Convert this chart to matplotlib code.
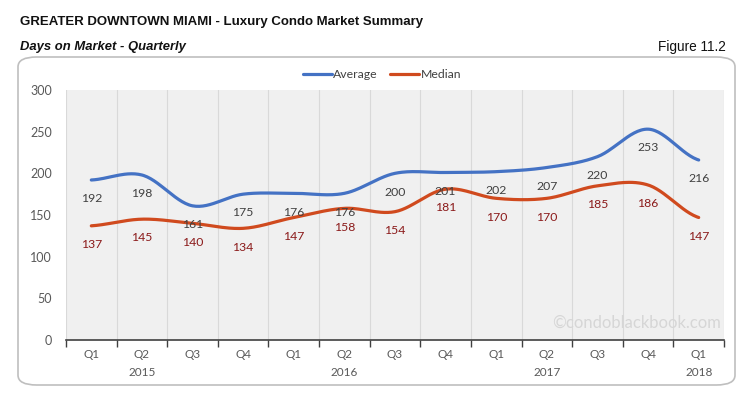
import numpy as np
import matplotlib
matplotlib.use("Agg")
import matplotlib.pyplot as plt
from matplotlib.patches import FancyBboxPatch

quarters = ["Q1", "Q2", "Q3", "Q4", "Q1", "Q2", "Q3", "Q4", "Q1", "Q2", "Q3", "Q4", "Q1"]
years = ["2015", "2016", "2017", "2018"]
year_pos = [1, 5, 9, 12]
average = [192, 198, 161, 175, 176, 176, 200, 201, 202, 207, 220, 253, 216]
median = [137, 145, 140, 134, 147, 158, 154, 181, 170, 170, 185, 186, 147]

BLUE = "#4472C4"
RED = "#D04A1E"
TEXT = "#595959"


def smooth(xs, ys, n=30):
    # catmull-rom spline through the points, like excel's smoothed line
    xs = np.asarray(xs, float)
    ys = np.asarray(ys, float)
    px = np.concatenate([[2 * xs[0] - xs[1]], xs, [2 * xs[-1] - xs[-2]]])
    py = np.concatenate([[ys[0]], ys, [ys[-1]]])
    out_x, out_y = [], []
    t = np.linspace(0, 1, n)
    for i in range(1, len(px) - 2):
        for p, out in ((px, out_x), (py, out_y)):
            p0, p1, p2, p3 = p[i - 1], p[i], p[i + 1], p[i + 2]
            out.extend(0.5 * ((2 * p1) + (-p0 + p2) * t
                              + (2 * p0 - 5 * p1 + 4 * p2 - p3) * t ** 2
                              + (-p0 + 3 * p1 - 3 * p2 + p3) * t ** 3))
    return np.array(out_x), np.array(out_y)


plt.rcParams["font.family"] = ["Lato", "DejaVu Sans"]

fig = plt.figure(figsize=(7.45, 3.93), dpi=100)
W, H = 745, 393
head = ["Liberation Sans Narrow", "Liberation Sans"]

fig.text(20 / W, 1 - 22 / H, "GREATER DOWNTOWN MIAMI - Luxury Condo Market Summary",
         family=head, weight="bold", fontsize=9.5, va="center", ha="left", color="#111111")
fig.text(20 / W, 1 - 47 / H, "Days on Market - Quarterly",
         family=head, weight="bold", style="italic",
         fontsize=9.4, va="center", ha="left", color="#111111")
fig.text(726 / W, 1 - 47 / H, "Figure 11.2",
         family=head, fontsize=9.8, va="center", ha="right", color="#111111")

box = FancyBboxPatch((18 / W, 1 - 385 / H), 717 / W, 328 / H,
                     boxstyle="round,pad=0,rounding_size=0.025",
                     transform=fig.transFigure, facecolor="white",
                     edgecolor="#bfbfbf", linewidth=1.2, zorder=-5)
fig.add_artist(box)

ax = fig.add_axes([66 / W, 1 - 340 / H, 658 / W, 250 / H])
ax.set_zorder(2)
ax.set_facecolor("#f0f0f0")
x = np.arange(len(quarters))

for i in range(len(quarters) + 1):
    ax.axvline(i - 0.5, color="#d9d9d9", linewidth=0.8, zorder=1)

sx, sy = smooth(x, average)
ax.plot(sx, sy, color=BLUE, linewidth=2.3, solid_capstyle="round", zorder=3, label="Average")
sx, sy = smooth(x, median)
ax.plot(sx, sy, color=RED, linewidth=2.3, solid_capstyle="round", zorder=3, label="Median")

for xi, v in zip(x, average):
    ax.annotate(str(v), (xi, v), xytext=(0, -13.5), textcoords="offset points",
                ha="center", va="center", fontsize=8.8, color="#404040", zorder=4)
for xi, v in zip(x, median):
    ax.annotate(str(v), (xi, v), xytext=(0, -13.5), textcoords="offset points",
                ha="center", va="center", fontsize=8.8, color="#8B1A1A", zorder=4)

ax.set_xlim(-0.5, len(quarters) - 0.5)
ax.set_ylim(0, 300)
ax.set_yticks(np.arange(0, 301, 50))
ax.tick_params(axis="y", length=0, labelsize=9, labelcolor=TEXT, pad=10)

ax.set_xticks(np.arange(len(quarters) + 1) - 0.5)
ax.set_xticklabels([])
ax.tick_params(axis="x", direction="out", length=5, color="#404040", width=1)
for xi, q in zip(x, quarters):
    ax.text(xi, -15 / 250 * 300, q, ha="center", va="center", fontsize=8.5, color=TEXT)
for p, yr in zip(year_pos, years):
    ax.text(p, -32 / 250 * 300, yr, ha="center", va="center", fontsize=8.5, color=TEXT)

for s in ["top", "right", "left"]:
    ax.spines[s].set_visible(False)
ax.spines["bottom"].set_color("#404040")
ax.spines["bottom"].set_linewidth(1.2)

ax.text(0.995, 0.035, "\u00a9condoblackbook.com", transform=ax.transAxes,
        ha="right", va="bottom", fontsize=12, color="#d6d6d6", zorder=2)

ax.legend(loc="center", bbox_to_anchor=(0.48, 1.06), ncol=2, frameon=False,
          fontsize=8.8, handlelength=2.4, handletextpad=0.1, columnspacing=1.0,
          labelcolor="#404040")

fig.savefig("out.png", dpi=100)
